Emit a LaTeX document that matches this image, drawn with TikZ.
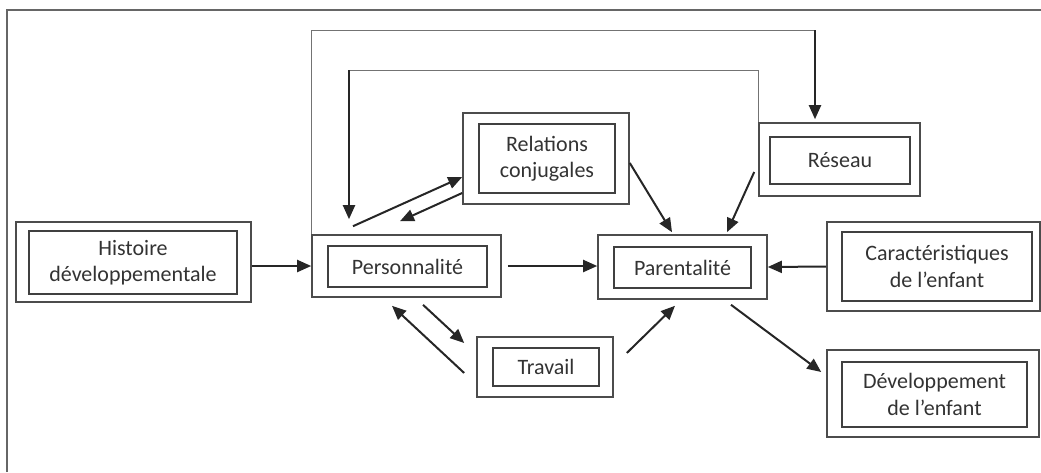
\documentclass[tikz,border=0pt]{standalone}
\usepackage{fontspec}
\setmainfont{Carlito}
\usetikzlibrary{arrows.meta}
\begin{document}
\begin{tikzpicture}[x=1pt,y=-1pt,
  outer/.style={draw=black!70, line width=1.6pt, inner sep=0pt},
  inner/.style={draw=black!75, line width=1.6pt, inner sep=0pt, align=center,
    font=\fontsize{22}{26.5}\selectfont, text=black!80},
  arr/.style={draw=black!85, line width=2pt, -{Triangle[length=14pt,width=12pt]}},
  loopline/.style={draw=black!55, line width=1pt},
  frame/.style={draw=black!60, line width=1.3pt}]
\useasboundingbox (0,0) rectangle (1041,472);
% frame
\draw[frame] (7,472) -- (7,10) -- (1041,10);
% boxes
\node[outer, minimum width=235pt, minimum height=80pt] (hist) at (133.5,262) {};
\node[inner, minimum width=208pt, minimum height=63pt] (histin) at (133,262.5) {Histoire\\développementale};
\node[outer, minimum width=189pt, minimum height=62pt] (pers) at (406.5,266) {};
\node[inner, minimum width=159pt, minimum height=41pt] (persin) at (407.5,266.5) {Personnalité};
\node[outer, minimum width=166pt, minimum height=91pt] (rel) at (546,158.5) {};
\node[inner, minimum width=136pt, minimum height=69pt] (relin) at (547,158.5) {Relations\\conjugales};
\node[outer, minimum width=161pt, minimum height=73pt] (res) at (839.5,159.5) {};
\node[inner, minimum width=140pt, minimum height=47pt] (resin) at (840,160.5) {Réseau};
\node[outer, minimum width=169pt, minimum height=64pt] (par) at (682.5,267) {};
\node[inner, minimum width=137pt, minimum height=41pt] (parin) at (682.5,267.5) {Parentalité};
\node[outer, minimum width=213pt, minimum height=89pt] (car) at (933.5,266.5) {};
\node[inner, minimum width=190pt, minimum height=69pt] (carin) at (937,266.5) {Caractéristiques\\de l’enfant};
\node[outer, minimum width=136pt, minimum height=60pt] (trav) at (545,367) {};
\node[inner, minimum width=106pt, minimum height=38pt] (travin) at (546,367) {Travail};
\node[outer, minimum width=212pt, minimum height=87pt] (dev) at (933,393.5) {};
\node[inner, minimum width=185pt, minimum height=65pt] (devin) at (934.5,394.5) {Développement\\de l’enfant};
% straight arrows
\draw[arr] (hist.east |- pers.west) -- (pers.west);
\draw[arr] ([xshift=6pt]pers.east) -- (pers.east -| par.west);
\draw[arr] (car.west) -- (par.east);
\draw[arr] ([yshift=-4.5pt]rel.east) -- ([xshift=-10.5pt,yshift=2pt]par.north);
\draw[arr] ([xshift=-4pt,yshift=-12.5pt]res.west) -- ([xshift=44.5pt,yshift=2pt]par.north);
\draw[arr] ([xshift=-53.5pt,yshift=8pt]pers.north) -- ([yshift=-18.5pt]rel.west);
\draw[arr] ([yshift=-34.5pt]rel.west) -- ([xshift=-6.5pt,yshift=13pt]pers.north);
\draw[arr] ([xshift=16.5pt,yshift=-7pt]pers.south) -- ([xshift=-12pt,yshift=24pt]trav.west);
\draw[arr] ([xshift=-12pt,yshift=-6pt]trav.west) -- ([xshift=-14.5pt,yshift=-8pt]pers.south);
\draw[arr] ([xshift=13pt,yshift=14pt]trav.east) -- ([xshift=-7.5pt,yshift=-6pt]par.south);
\draw[arr] ([xshift=48.5pt,yshift=-5pt]par.south) -- ([xshift=-5pt,yshift=21.5pt]dev.west);
% feedback loops
\coordinate (cA) at (815,30);
\coordinate (cB) at (349,70);
\draw[loopline] (pers.north west) |- (cA);
\draw[arr] (cA) -- ([xshift=-24.5pt,yshift=3pt]res.north);
\draw[loopline] (res.north west) |- (cB);
\draw[arr] (cB) -- ([xshift=-57.5pt,yshift=15pt]pers.north);
\end{tikzpicture}
\end{document}
